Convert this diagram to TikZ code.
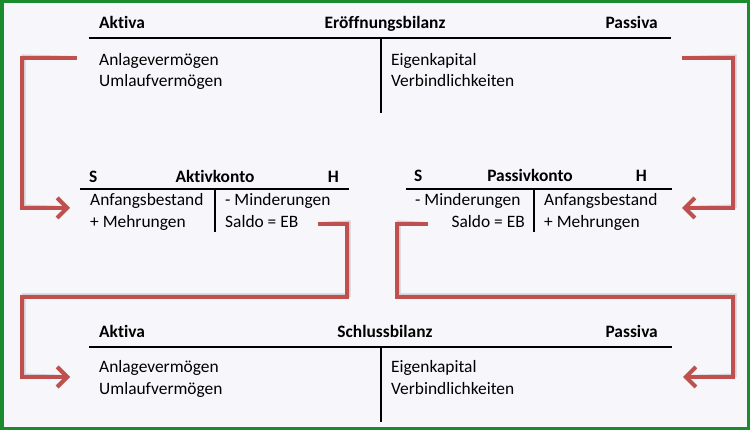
\documentclass[tikz,border=0pt]{standalone}
\usepackage{fontspec}
\setmainfont{Carlito}[Ligatures=NoCommon]
\usetikzlibrary{arrows.meta}
\definecolor{bg}{HTML}{F7F6FA}
\definecolor{frame}{HTML}{1A8C2E}
\definecolor{arrowred}{HTML}{C0504D}
\tikzset{
  txt/.style={inner sep=0pt, font=\fontsize{17.4}{20}\selectfont},
  hdr/.style={txt, font=\fontsize{17.4}{20}\selectfont\bfseries},
  tline/.style={line width=2pt, black},
  flow/.style={line width=4pt, arrowred, line join=miter, -{Straight Barb[length=10pt,width=20pt,line width=4pt]}},
  flowshadow/.style={line width=4pt, black, opacity=0.15, line join=miter, -{Straight Barb[length=10pt,width=20pt,line width=4pt]}, shift={(1.5pt,1.5pt)}}
}
\begin{document}
\begin{tikzpicture}[x=1pt,y=-1pt]
\useasboundingbox (0,0) rectangle (750,430);
\fill[bg] (0,0) rectangle (750,430);
\draw[frame, line width=3.5pt] (1.75,1.75) rectangle (748.25,428.25);

% Eröffnungsbilanz
\node[hdr, anchor=base west] (eA) at (99,29) {Akt\kern0pt iva};
\node[hdr, anchor=base] (eT) at (385,29) {Eröffnungsbilanz};
\node[hdr, anchor=base east] (eP) at (658,29) {Passiva};
\coordinate (eL) at (89,38); \coordinate (eR) at (671,38);
\coordinate (eV1) at (381,38); \coordinate (eV2) at (381,113);
\draw[tline] (eL) -- (eR);
\draw[tline] (eV1) -- (eV2);
\node[txt, anchor=base west] (eAV) at (99,66) {Anlagevermögen};
\node[txt, anchor=base west] (eUV) at (99,87) {Umlaufvermögen};
\node[txt, anchor=base west] (eEK) at (391,66) {Eigenkapital};
\node[txt, anchor=base west] (eVB) at (391,87) {Verbindlichkeiten};

% Aktivkonto
\node[hdr, anchor=base west] (aS) at (89,183) {S};
\node[hdr, anchor=base] (aT) at (215,183) {Akt\kern0pt ivkonto};
\node[hdr, anchor=base east] (aH) at (339,183) {H};
\coordinate (aL) at (80,189); \coordinate (aR) at (349,189);
\coordinate (aV1) at (215,189); \coordinate (aV2) at (215,232);
\draw[tline] (aL) -- (aR);
\draw[tline] (aV1) -- (aV2);
\node[txt, anchor=base west] (aAB) at (90,206) {Anfangsbestand};
\node[txt, anchor=base west] (aMe) at (90,228) {+ Mehrungen};
\node[txt, anchor=base west] (aMi) at (225,206) {- Minderungen};
\node[txt, anchor=base west] (aSa) at (225,228) {Saldo = EB};

% Passivkonto
\node[hdr, anchor=base west] (pS) at (414,182) {S};
\node[hdr, anchor=base] (pT) at (530,182) {Passivkonto};
\node[hdr, anchor=base east] (pH) at (647,182) {H};
\coordinate (pL) at (406,189); \coordinate (pR) at (672,189);
\coordinate (pV1) at (534,189); \coordinate (pV2) at (534,232);
\draw[tline] (pL) -- (pR);
\draw[tline] (pV1) -- (pV2);
\node[txt, anchor=base west] (pMi) at (415,206) {- Minderungen};
\node[txt, anchor=base east] (pSa) at (525,228) {Saldo = EB};
\node[txt, anchor=base west] (pAB) at (544,206) {Anfangsbestand};
\node[txt, anchor=base west] (pMe) at (544,228) {+ Mehrungen};

% Schlussbilanz
\node[hdr, anchor=base west] (sA) at (99,338) {Akt\kern0pt iva};
\node[hdr, anchor=base] (sT) at (385,338) {Schlussbilanz};
\node[hdr, anchor=base east] (sP) at (658,338) {Passiva};
\coordinate (sL) at (89,347); \coordinate (sR) at (672,347);
\coordinate (sV1) at (381,347); \coordinate (sV2) at (381,422);
\draw[tline] (sL) -- (sR);
\draw[tline] (sV1) -- (sV2);
\node[txt, anchor=base west] (sAV) at (99,373) {Anlagevermögen};
\node[txt, anchor=base west] (sUV) at (99,395) {Umlaufvermögen};
\node[txt, anchor=base west] (sEK) at (391,373) {Eigenkapital};
\node[txt, anchor=base west] (sVB) at (391,395) {Verbindlichkeiten};

% arrow end points
\coordinate (f1s) at (77,58);  \coordinate (f1e) at (70,208);
\coordinate (f2s) at (682,58); \coordinate (f2e) at (682,208);
\coordinate (f3s) at (318,224); \coordinate (f3e) at (70,377);
\coordinate (f4s) at (428,224); \coordinate (f4e) at (683,377);

\foreach \st in {flowshadow,flow}{
  \draw[\st] (f1s) -- (22,58) -- (22,208) -- (f1e);
  \draw[\st] (f2s) -- (733,58) -- (733,208) -- (f2e);
  \draw[\st] (f3s) -- (347,224) -- (347,297) -- (22,297) -- (22,377) -- (f3e);
  \draw[\st] (f4s) -- (397,224) -- (397,297) -- (733,297) -- (733,377) -- (f4e);
}
\end{tikzpicture}
\end{document}
